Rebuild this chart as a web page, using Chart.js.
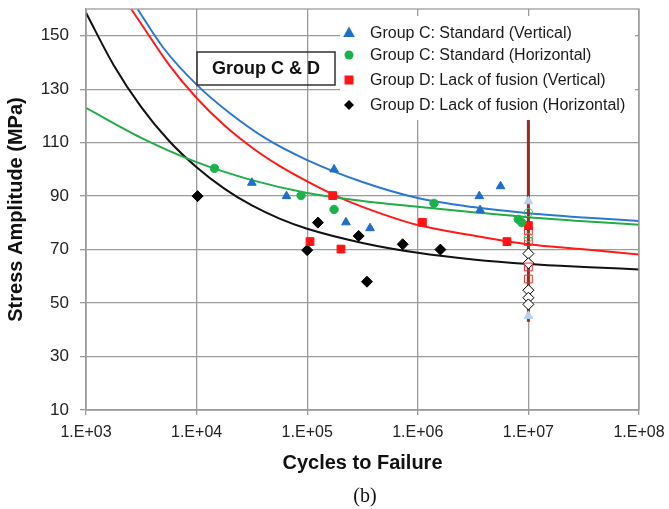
<!DOCTYPE html>
<html>
<head>
<meta charset="utf-8">
<script src="https://cdn.jsdelivr.net/npm/chart.js@4/dist/chart.umd.min.js"></script>
<style>
  html, body { margin: 0; padding: 0; background: #fff; }
  #wrap { width: 669px; height: 509px; }
</style>
</head>
<body>
<div id="wrap"><canvas id="snChart" width="669" height="509"></canvas></div>
<script>
// axis ticks
const xTickValues = [1e3, 1e4, 1e5, 1e6, 1e7, 1e8];
const xTickLabels = ['1.E+03', '1.E+04', '1.E+05', '1.E+06', '1.E+07', '1.E+08'];
const yTickValues = [10, 30, 50, 70, 90, 110, 130, 150];

const seriesNames = [
  'Group C: Standard (Vertical)',
  'Group C: Standard (Horizontal)',
  'Group D: Lack of fusion (Vertical)',
  'Group D: Lack of fusion (Horizontal)'
];

// test results (cycles, MPa)
const stdVertN = [3.16e4, 6.5e4, 1.75e5, 2.24e5, 3.7e5, 3.6e6, 5.6e6, 3.66e6];
const stdVertS = [95, 90, 100, 80.2, 78, 90, 93.7, 84.8];
const stdHorN = [1.45e4, 8.8e4, 1.75e5, 1.4e6, 8.1e6, 8.7e6];
const stdHorS = [100.4, 90.2, 85, 87.3, 81.3, 80.1];
const lofVertN = [1.06e5, 1.7e5, 2.02e5, 1.1e6, 6.4e6, 1e7];
const lofVertS = [73, 90.2, 70.2, 80.2, 73, 79];
const lofHorN = [1.02e4, 1.0e5, 1.25e5, 2.92e5, 3.47e5, 7.3e5, 1.6e6];
const lofHorS = [90, 69.8, 80.1, 75.1, 58, 72, 70];

// run-outs at 1e7 cycles
const stdVertRunN = [1e7, 1e7];
const stdVertRunS = [88.1, 45.2];
const stdHorRunN = [1e7, 1e7];
const stdHorRunS = [83.8, 74.5];
const lofVertRunN = [1e7, 1e7, 1e7, 1e7];
const lofVertRunS = [77, 73, 63.5, 59];
const lofHorRunN = [1e7, 1e7, 1e7, 1e7, 1e7];
const lofHorRunS = [68.5, 64.9, 54.8, 52, 49.5];
const runoutBarN = [1e7, 1e7];
const runoutBarS = [43, 118.5];

// fitted curves
const stdVertFitN = [2.92e3, 5e3, 1e4, 2e4, 4.33e4, 1e5, 3.16e5, 1e6, 3.16e6, 1e7, 3.16e7, 1e8];
const stdVertFitS = [160, 145.5, 131.7, 121, 111.3, 103.5, 95.3, 89.3, 85.9, 83.6, 82, 80.7];
const stdHorFitN = [1e3, 3.16e3, 1e4, 3.16e4, 1e5, 3.16e5, 1e6, 3.16e6, 1e7, 3.16e7, 1e8];
const stdHorFitS = [123, 111.8, 102.7, 96, 91.2, 88.2, 86, 84, 82.1, 80.6, 79.3];
const lofVertFitN = [2.47e3, 3.16e3, 5.62e3, 1e4, 1.78e4, 3.16e4, 5.62e4, 1e5, 1.78e5, 3.16e5, 1e6, 3.16e6, 1e7, 3.16e7, 1e8];
const lofVertFitS = [161, 154.4, 139.2, 126.7, 116.5, 108.2, 101.3, 95.5, 90.3, 86, 79.2, 75.3, 72, 70.1, 68.2];
const lofHorFitN = [1e3, 1.78e3, 3.16e3, 5.62e3, 1e4, 1.78e4, 3.16e4, 5.62e4, 1e5, 3.16e5, 1e6, 3.16e6, 1e7, 3.16e7, 1e8];
const lofHorFitS = [158.6, 139, 123.3, 110.7, 100.8, 92.8, 86.5, 81.6, 77.8, 72.5, 68.8, 66.3, 64.6, 63.5, 62.6];

const colBlue = '#1f6fc6';
const colGreen = '#1db14b';
const colRed = '#ff1414';
const colBlack = '#000000';
const gridColor = '#9c9c9c';
const sans = "'Liberation Sans', Arial, sans-serif";

const pts = (xs, ys) => xs.map((x, i) => ({ x: x, y: ys[i] }));

function markerSet(label, xs, ys, style, radius, fill, stroke) {
  return {
    label: label, data: pts(xs, ys), showLine: false,
    pointStyle: style, pointRadius: radius,
    pointBackgroundColor: fill, pointBorderColor: stroke, pointBorderWidth: 1
  };
}

function curveSet(label, xs, ys, color) {
  return {
    label: label, data: pts(xs, ys), showLine: true, pointRadius: 0,
    borderColor: color, borderWidth: 2, fill: false,
    cubicInterpolationMode: 'monotone'
  };
}

// draw one legend marker by hand
function legendMarker(ctx, style, x, y, r, color) {
  ctx.fillStyle = color;
  ctx.beginPath();
  if (style === 'triangle') {
    ctx.moveTo(x, y - r);
    ctx.lineTo(x + r * 0.9, y + r * 0.6);
    ctx.lineTo(x - r * 0.9, y + r * 0.6);
  } else if (style === 'circle') {
    ctx.arc(x, y, r, 0, Math.PI * 2);
  } else if (style === 'rect') {
    ctx.rect(x - r, y - r, 2 * r, 2 * r);
  } else {
    ctx.moveTo(x, y - r);
    ctx.lineTo(x + r, y);
    ctx.lineTo(x, y + r);
    ctx.lineTo(x - r, y);
  }
  ctx.closePath();
  ctx.fill();
}

const figureExtras = {
  id: 'figureExtras',
  afterDraw(chart) {
    const ctx = chart.ctx;
    const a = chart.chartArea;
    ctx.save();

    // plot frame
    ctx.strokeStyle = gridColor;
    ctx.lineWidth = 1.3;
    ctx.strokeRect(a.left, a.top, a.right - a.left, a.bottom - a.top);

    // "Group C & D" label
    ctx.strokeStyle = '#333';
    ctx.lineWidth = 1.5;
    ctx.strokeRect(a.left + 111, a.top + 43, 138, 33);
    ctx.fillStyle = '#111';
    ctx.font = 'bold 18px ' + sans;
    ctx.textAlign = 'center';
    ctx.textBaseline = 'middle';
    ctx.fillText('Group C & D', a.left + 180, a.top + 60);

    // legend
    const lx = a.left + 254, ly = a.top + 7;
    ctx.fillStyle = '#fff';
    ctx.fillRect(lx, ly, a.right - lx - 4, 104);
    const styles = ['triangle', 'circle', 'rect', 'rectRot'];
    const colors = [colBlue, colGreen, colRed, colBlack];
    const sizes = [6.5, 4.5, 4.5, 5];
    const rows = [24, 46, 71, 96];
    ctx.font = '16px ' + sans;
    ctx.textAlign = 'left';
    seriesNames.forEach((name, i) => {
      legendMarker(ctx, styles[i], lx + 9, a.top + rows[i], sizes[i], colors[i]);
      ctx.fillStyle = '#1a1a1a';
      ctx.fillText(name, lx + 30, a.top + rows[i] + 1);
    });

    // panel tag
    ctx.font = "20px 'Liberation Serif', 'Times New Roman', serif";
    ctx.textAlign = 'center';
    ctx.fillStyle = '#111';
    ctx.fillText('(b)', 365, 497);
    ctx.restore();
  }
};

const datasets = [
  markerSet(seriesNames[0], stdVertN, stdVertS, 'triangle', 5, colBlue, colBlue),
  markerSet(seriesNames[1], stdHorN, stdHorS, 'circle', 4.2, colGreen, colGreen),
  markerSet(seriesNames[2], lofVertN, lofVertS, 'rect', 5.5, colRed, colRed),
  markerSet(seriesNames[3], lofHorN, lofHorS, 'rectRot', 5.5, colBlack, colBlack),
  markerSet('run-out C vertical', stdVertRunN, stdVertRunS, 'triangle', 5, '#b5d3f0', '#b5d3f0'),
  markerSet('run-out C horizontal', stdHorRunN, stdHorRunS, 'circle', 4.2, 'rgba(0,0,0,0)', '#3dbb60'),
  markerSet('run-out D vertical', lofVertRunN, lofVertRunS, 'rect', 5.5, 'rgba(0,0,0,0)', '#f03030'),
  markerSet('run-out D horizontal', lofHorRunN, lofHorRunS, 'rectRot', 5.5, '#ffffff', colBlack),
  {
    label: 'run-out bar', data: pts(runoutBarN, runoutBarS), showLine: true,
    pointRadius: 0, borderColor: '#9c2b1d', borderWidth: 3
  },
  curveSet('fit C vertical', stdVertFitN, stdVertFitS, '#2a78d2'),
  curveSet('fit C horizontal', stdHorFitN, stdHorFitS, '#21ad47'),
  curveSet('fit D vertical', lofVertFitN, lofVertFitS, '#ff1a1a'),
  curveSet('fit D horizontal', lofHorFitN, lofHorFitS, '#111111')
];

new Chart(document.getElementById('snChart').getContext('2d'), {
  type: 'scatter',
  data: { datasets: datasets },
  plugins: [figureExtras],
  options: {
    responsive: false,
    animation: false,
    devicePixelRatio: 1,
    layout: { padding: 0 },
    plugins: { legend: { display: false }, tooltip: { enabled: false } },
    scales: {
      x: {
        type: 'logarithmic', min: 1e3, max: 1e8,
        afterBuildTicks: (s) => { s.ticks = xTickValues.map(v => ({ value: v })); },
        afterFit: (s) => { s.height = 99; s.paddingLeft = 0; s.paddingRight = 30; },
        ticks: {
          callback: (v, i) => xTickLabels[i],
          font: { family: sans, size: 16 }, color: '#222',
          padding: 8, maxRotation: 0, autoSkip: false
        },
        grid: { color: gridColor, lineWidth: 1.3, tickLength: 5 },
        border: { color: gridColor, width: 1.3 },
        title: {
          display: true, text: 'Cycles to Failure', color: '#111',
          font: { family: sans, size: 20, weight: 'bold' },
          padding: { top: 0, bottom: 34 }
        }
      },
      y: {
        min: 10, max: 160,
        afterBuildTicks: (s) => { s.ticks = yTickValues.map(v => ({ value: v })); },
        afterFit: (s) => { s.width = 86; s.paddingTop = 9; s.paddingBottom = 0; },
        ticks: {
          callback: (v) => String(v),
          font: { family: sans, size: 17 }, color: '#222', padding: 11
        },
        grid: { color: gridColor, lineWidth: 1.3, tickLength: 6 },
        border: { color: gridColor, width: 1.3 },
        title: {
          display: true, text: 'Stress Amplitude (MPa)', color: '#111',
          font: { family: sans, size: 20, weight: 'bold' },
          padding: { top: 4, bottom: 0 }
        }
      }
    }
  }
});
</script>
</body>
</html>
